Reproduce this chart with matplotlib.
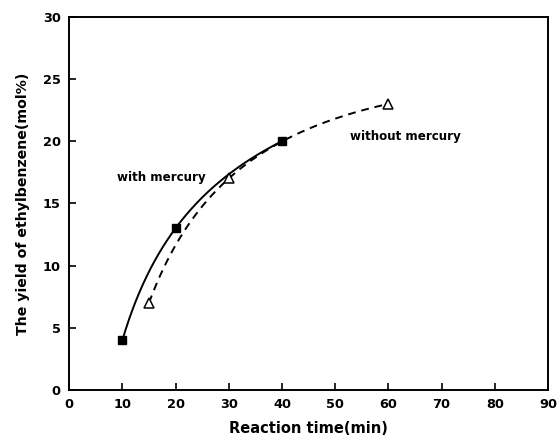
import numpy as np
import matplotlib
matplotlib.use("Agg")
import matplotlib.pyplot as plt

# Data
with_x = [10, 20, 40]
with_y = [4, 13, 20]
without_x = [15, 30, 60]
without_y = [7, 17, 23]

x_ticks = [0, 10, 20, 30, 40, 50, 60, 70, 80, 90]
y_ticks = [0, 5, 10, 15, 20, 25, 30]

plt.rcParams['font.family'] = ['DejaVu Sans']
plt.rcParams['font.weight'] = 'bold'

fig = plt.figure(figsize=(5.58, 4.43), dpi=100)
ax = fig.add_axes([0.124, 0.12, 0.858, 0.842])

def smooth(xs, ys):
    c = np.polyfit(np.log(xs), ys, 2)
    xx = np.linspace(min(xs), max(xs), 200)
    return xx, np.polyval(c, np.log(xx))

sx, sy = smooth(with_x, with_y)
dx, dy = smooth(without_x, without_y)
ax.plot(sx, sy, '-', color='black', lw=1.4)
ax.plot(dx, dy, '--', color='black', lw=1.4, dashes=(4, 3))
ax.plot(with_x, with_y, 's', color='black', ms=5.5)
ax.plot(without_x, without_y, '^', mfc='white', mec='black', mew=1.1, ms=7)

ax.text(9.0, 17.1, 'with mercury', fontsize=8.6, fontweight='bold', va='center', ha='left')
ax.text(52.8, 20.4, 'without mercury', fontsize=8.6, fontweight='bold', va='center', ha='left')

ax.set_xlim(0, 90)
ax.set_ylim(0, 30)
ax.set_xticks(x_ticks)
ax.set_yticks(y_ticks)
ax.tick_params(direction='in', length=5, width=1.2, labelsize=9.3, pad=6)
for lab in ax.get_xticklabels() + ax.get_yticklabels():
    lab.set_fontweight('bold')
for s in ax.spines.values():
    s.set_linewidth(1.4)

ax.set_xlabel('Reaction time(min)', fontsize=10.5, fontweight='bold', labelpad=7)
ax.set_ylabel('The yield of ethylbenzene(mol%)', fontsize=10.2, fontweight='bold', labelpad=9)

fig.savefig('out.png', dpi=100)
